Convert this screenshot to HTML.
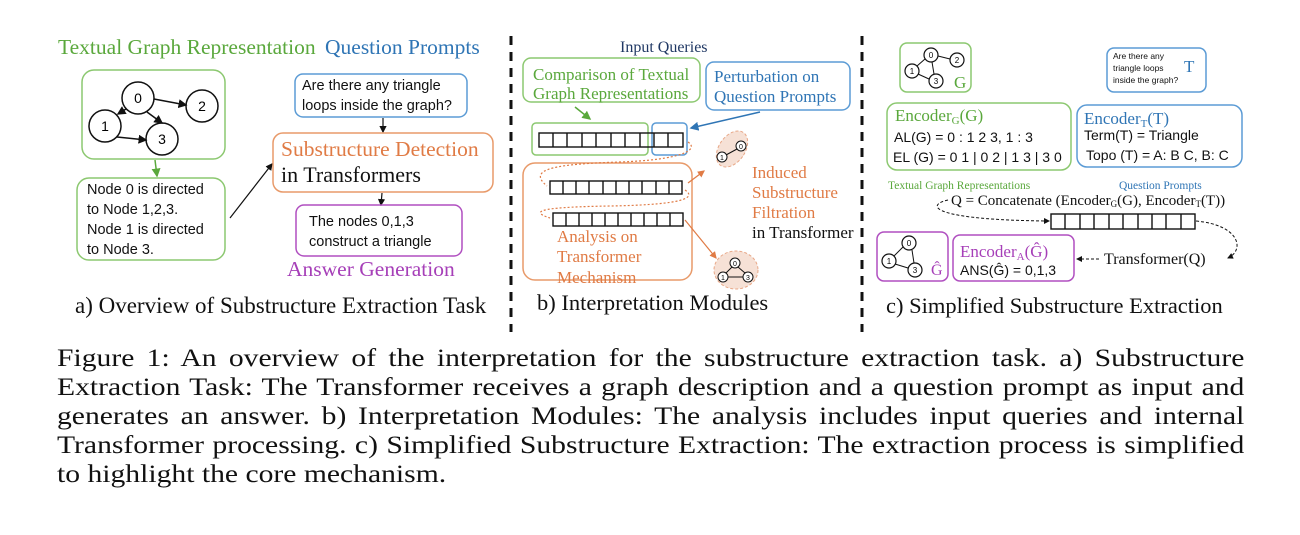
<!DOCTYPE html>
<html><head><meta charset="utf-8"><style>
body{margin:0;width:1300px;height:535px;background:#fff;overflow:hidden;position:relative;font-family:"Liberation Serif",serif}
.cap{position:absolute;left:57px;width:1002px;font-size:25px;text-align:justify;text-align-last:justify;white-space:nowrap;color:#111;transform:scaleX(1.185);transform-origin:0 0}
svg{position:absolute;left:0;top:0}
</style></head><body>
<svg width="1300" height="340" viewBox="0 0 1300 340">
<defs>
<marker id="ak" markerWidth="6" markerHeight="6" refX="5" refY="3" orient="auto"><path d="M0,0 L6,3 L0,6z" fill="#111"/></marker>
<marker id="ag" markerWidth="6" markerHeight="6" refX="5" refY="3" orient="auto"><path d="M0,0 L6,3 L0,6z" fill="#5aa83c"/></marker>
<marker id="ab" markerWidth="6" markerHeight="6" refX="5" refY="3" orient="auto"><path d="M0,0 L6,3 L0,6z" fill="#2f75b5"/></marker>
<marker id="ao" markerWidth="6" markerHeight="6" refX="5" refY="3" orient="auto"><path d="M0,0 L6,3 L0,6z" fill="#e07b45"/></marker>
</defs>
<g font-family="Liberation Serif,serif">
<!-- panel a -->
<text x="58" y="54" font-size="21.5" fill="#5aa83c">Textual Graph Representation</text>
<text x="325" y="54" font-size="21.5" fill="#2f75b5">Question Prompts</text>
<rect x="82" y="70" width="143" height="89" rx="12" fill="none" stroke="#8cc870" stroke-width="1.5"/>
<g stroke="#111" stroke-width="1.5" fill="none">
<circle cx="138" cy="98" r="16"/><circle cx="202" cy="106" r="16"/><circle cx="105" cy="126" r="16"/><circle cx="162" cy="139" r="16"/>
<line x1="154" y1="99" x2="186" y2="105" marker-end="url(#ak)"/>
<line x1="147" y1="112" x2="162" y2="123" marker-end="url(#ak)"/>
<line x1="126" y1="109" x2="118" y2="114" marker-end="url(#ak)"/>
<line x1="117" y1="137" x2="146" y2="140" marker-end="url(#ak)"/>
</g>
<g font-family="Liberation Sans,sans-serif" font-size="14" text-anchor="middle"><text x="138" y="103">0</text><text x="202" y="111">2</text><text x="105" y="131">1</text><text x="162" y="144">3</text></g>
<line x1="155" y1="160" x2="157" y2="176" stroke="#5aa83c" stroke-width="1.5" marker-end="url(#ag)"/>
<rect x="77" y="178" width="148" height="82" rx="12" fill="none" stroke="#8cc870" stroke-width="1.5"/>
<g font-family="Liberation Sans,sans-serif" font-size="14.5" fill="#111"><text x="87" y="194">Node 0 is directed</text><text x="87" y="214">to Node 1,2,3.</text><text x="87" y="234">Node 1 is directed</text><text x="87" y="254">to Node 3.</text></g>
<line x1="230" y1="218" x2="272" y2="164" stroke="#111" stroke-width="1.2" marker-end="url(#ak)"/>
<rect x="295" y="74" width="172" height="43" rx="8" fill="none" stroke="#5b9bd5" stroke-width="1.5"/>
<g font-family="Liberation Sans,sans-serif" font-size="14.5" fill="#111"><text x="302" y="90">Are there any triangle</text><text x="302" y="110">loops inside the graph?</text></g>
<line x1="383" y1="118" x2="383" y2="132" stroke="#111" stroke-width="1.2" marker-end="url(#ak)"/>
<rect x="273" y="133" width="220" height="59" rx="10" fill="none" stroke="#e89a6a" stroke-width="1.5"/>
<text x="281" y="156" font-size="21.5" fill="#e07b45">Substructure Detection</text>
<text x="281" y="182" font-size="22" fill="#111">in Transformers</text>
<line x1="382" y1="193" x2="381" y2="205" stroke="#111" stroke-width="1.2" marker-end="url(#ak)"/>
<rect x="296" y="205" width="166" height="51" rx="8" fill="none" stroke="#b04fc0" stroke-width="1.5"/>
<g font-family="Liberation Sans,sans-serif" font-size="14.5" fill="#111"><text x="309" y="226">The nodes 0,1,3</text><text x="309" y="246">construct a triangle</text></g>
<text x="287" y="276" font-size="21.5" fill="#a63fb8">Answer Generation</text>
<text x="75" y="313" font-size="23" fill="#111">a) Overview of Substructure Extraction Task</text>
<line x1="511" y1="36" x2="511" y2="332" stroke="#111" stroke-width="3" stroke-dasharray="9,7"/>
<line x1="862" y1="36" x2="862" y2="332" stroke="#111" stroke-width="3" stroke-dasharray="9,7"/>
<!-- panel b -->
<text x="620" y="52" font-size="16" fill="#203864">Input Queries</text>
<rect x="523" y="58" width="177" height="44" rx="8" fill="none" stroke="#8cc870" stroke-width="1.5"/>
<text x="533" y="80" font-size="17" fill="#5aa83c">Comparison of Textual</text>
<text x="533" y="99" font-size="17" fill="#5aa83c">Graph Representations</text>
<rect x="706" y="62" width="144" height="48" rx="8" fill="none" stroke="#5b9bd5" stroke-width="1.5"/>
<text x="714" y="82" font-size="17" fill="#2f75b5">Perturbation on</text>
<text x="714" y="102" font-size="17" fill="#2f75b5">Question Prompts</text>
<line x1="575" y1="107" x2="590" y2="119" stroke="#5aa83c" stroke-width="1.5" marker-end="url(#ag)"/>
<line x1="760" y1="112" x2="691" y2="128" stroke="#2f75b5" stroke-width="1.5" marker-end="url(#ab)"/>
<rect x="532" y="123" width="116" height="32" rx="4" fill="none" stroke="#8cc870" stroke-width="1.5"/>
<rect x="652" y="123" width="35" height="32" rx="4" fill="none" stroke="#5b9bd5" stroke-width="1.5"/>
<g fill="none" stroke="#111" stroke-width="1.4">
<rect x="539" y="133" width="144" height="14"/>
<path d="M553,133v14M567,133v14M582,133v14M596,133v14M611,133v14M625,133v14M640,133v14M654,133v14M668,133v14"/>
<rect x="550" y="181" width="132" height="13"/>
<path d="M563,181v13M576,181v13M589,181v13M603,181v13M616,181v13M629,181v13M642,181v13M656,181v13M669,181v13"/>
<rect x="553" y="213" width="130" height="13"/>
<path d="M566,213v13M579,213v13M592,213v13M605,213v13M618,213v13M631,213v13M644,213v13M657,213v13M670,213v13"/>
</g>
<rect x="523" y="163" width="169" height="117" rx="12" fill="none" stroke="#e89a6a" stroke-width="1.5"/>
<g fill="none" stroke="#e07b45" stroke-width="1.2" stroke-dasharray="2,2">
<path d="M688,142 C700,150 680,160 620,162 C560,164 525,168 547,186"/>
<path d="M685,190 C700,200 670,205 610,206 C550,207 525,210 550,218"/>
</g>
<line x1="688" y1="183" x2="704" y2="171" stroke="#e07b45" stroke-width="1.2" marker-end="url(#ao)"/>
<line x1="685" y1="220" x2="716" y2="258" stroke="#e07b45" stroke-width="1.2" marker-end="url(#ao)"/>
<ellipse cx="732" cy="149" rx="13" ry="20" transform="rotate(35 732 149)" fill="#f6e1d6" stroke="#e8a888" stroke-dasharray="3,2"/>
<ellipse cx="736" cy="270" rx="22" ry="19" fill="#f6e1d6" stroke="#e8a888" stroke-dasharray="3,2"/>
<g fill="#fff" stroke="#111" stroke-width="1"><circle cx="741" cy="146" r="5"/><circle cx="722" cy="157" r="5"/><circle cx="735" cy="263" r="5"/><circle cx="723" cy="277" r="5"/><circle cx="748" cy="277" r="5"/></g>
<g stroke="#111" stroke-width="1"><line x1="737" y1="149" x2="726" y2="155"/><line x1="732" y1="267" x2="726" y2="273"/><line x1="738" y1="267" x2="745" y2="273"/><line x1="743" y1="277" x2="728" y2="277"/></g>
<g font-family="Liberation Sans,sans-serif" font-size="7" text-anchor="middle"><text x="741" y="149">0</text><text x="722" y="160">1</text><text x="735" y="266">0</text><text x="723" y="280">1</text><text x="748" y="280">3</text></g>
<g fill="#e07b45" font-size="17"><text x="557" y="242">Analysis on</text><text x="557" y="262">Transformer</text><text x="557" y="283">Mechanism</text>
<text x="752" y="178">Induced</text><text x="752" y="198">Substructure</text><text x="752" y="218">Filtration</text></g>
<text x="752" y="238" font-size="17" fill="#111">in Transformer</text>
<text x="537" y="310" font-size="22.5" fill="#111">b) Interpretation Modules</text>
<!-- panel c -->
<rect x="900" y="43" width="71" height="49" rx="7" fill="none" stroke="#8cc870" stroke-width="1.5"/>
<g stroke="#111" stroke-width="1"><line x1="925" y1="59" x2="917" y2="66"/><line x1="938" y1="56" x2="950" y2="59"/><line x1="932" y1="62" x2="934" y2="74"/><line x1="918" y1="74" x2="929" y2="79"/></g>
<g fill="#fff" stroke="#111" stroke-width="1.2"><circle cx="931" cy="55" r="7"/><circle cx="957" cy="60" r="7"/><circle cx="912" cy="71" r="7"/><circle cx="936" cy="81" r="7"/></g>
<g font-family="Liberation Sans,sans-serif" font-size="8" text-anchor="middle"><text x="931" y="58">0</text><text x="957" y="63">2</text><text x="912" y="74">1</text><text x="936" y="84">3</text></g>
<text x="954" y="88" font-size="17" fill="#5aa83c">G</text>
<rect x="1107" y="48" width="99" height="44" rx="7" fill="none" stroke="#5b9bd5" stroke-width="1.5"/>
<g font-family="Liberation Sans,sans-serif" font-size="8.5" fill="#111"><text x="1113" y="59">Are there any</text><text x="1113" y="71">triangle loops</text><text x="1113" y="83">inside the graph?</text></g>
<text x="1184" y="72" font-size="17" fill="#2f75b5">T</text>
<rect x="887" y="103" width="184" height="67" rx="10" fill="none" stroke="#8cc870" stroke-width="1.5"/>
<text x="895" y="121" font-size="17" fill="#5aa83c">Encoder<tspan font-size="11" dy="3">G</tspan><tspan dy="-3">(G)</tspan></text>
<g font-family="Liberation Sans,sans-serif" font-size="14" fill="#111"><text x="894" y="142">AL(G) = 0 : 1 2 3, 1 : 3</text><text x="893" y="162">EL (G) = 0 1 | 0 2 | 1 3 | 3 0</text></g>
<rect x="1077" y="105" width="165" height="62" rx="10" fill="none" stroke="#5b9bd5" stroke-width="1.5"/>
<text x="1084" y="124" font-size="17" fill="#2f75b5">Encoder<tspan font-size="11" dy="3">T</tspan><tspan dy="-3">(T)</tspan></text>
<g font-family="Liberation Sans,sans-serif" font-size="14" fill="#111"><text x="1084" y="140">Term(T) = Triangle</text><text x="1086" y="160">Topo (T) = A: B C, B: C</text></g>
<text x="888" y="189" font-size="11.5" fill="#5aa83c">Textual Graph Representations</text>
<text x="1119" y="189" font-size="11.5" fill="#2f75b5">Question Prompts</text>
<text x="951" y="205" font-size="15" fill="#111">Q = Concatenate (Encoder<tspan font-size="9" dy="2">G</tspan><tspan dy="-2">(G), Encoder</tspan><tspan font-size="9" dy="2">T</tspan><tspan dy="-2">(T))</tspan></text>
<g fill="none" stroke="#111" stroke-width="1.4">
<rect x="1051" y="214" width="144" height="15"/>
<path d="M1065,214v15M1080,214v15M1094,214v15M1109,214v15M1123,214v15M1138,214v15M1152,214v15M1166,214v15M1181,214v15"/>
</g>
<g fill="none" stroke="#111" stroke-width="1" stroke-dasharray="3,2">
<path d="M948,200 C925,205 930,220 1049,221" marker-end="url(#ak)"/>
<path d="M1196,221 C1240,225 1245,250 1228,258" marker-end="url(#ak)"/>
<path d="M1099,259 L1077,259" marker-end="url(#ak)"/>
</g>
<text x="1104" y="264" font-size="16" fill="#111">Transformer(Q)</text>
<rect x="877" y="232" width="71" height="49" rx="7" fill="none" stroke="#b04fc0" stroke-width="1.5"/>
<g stroke="#111" stroke-width="1"><line x1="903" y1="247" x2="894" y2="256"/><line x1="912" y1="250" x2="914" y2="263"/><line x1="895" y1="264" x2="908" y2="268"/></g>
<g fill="#fff" stroke="#111" stroke-width="1.2"><circle cx="909" cy="243" r="7"/><circle cx="889" cy="261" r="7"/><circle cx="915" cy="270" r="7"/></g>
<g font-family="Liberation Sans,sans-serif" font-size="8" text-anchor="middle"><text x="909" y="246">0</text><text x="889" y="264">1</text><text x="915" y="273">3</text></g>
<text x="931" y="275" font-size="16" fill="#a63fb8">Ĝ</text>
<rect x="953" y="235" width="121" height="46" rx="7" fill="none" stroke="#b04fc0" stroke-width="1.5"/>
<text x="960" y="257" font-size="17" fill="#a63fb8">Encoder<tspan font-size="11" dy="3">A</tspan><tspan dy="-3">(Ĝ)</tspan></text>
<text x="960" y="275" font-family="Liberation Sans,sans-serif" font-size="14" fill="#111">ANS(Ĝ) = 0,1,3</text>
<text x="886" y="313" font-size="22.5" fill="#111">c) Simplified Substructure Extraction</text>
</g>
</svg>
<div class="cap" style="top:345px">Figure 1: An overview of the interpretation for the substructure extraction task. a) Substructure</div>
<div class="cap" style="top:374px">Extraction Task: The Transformer receives a graph description and a question prompt as input and</div>
<div class="cap" style="top:403px">generates an answer. b) Interpretation Modules: The analysis includes input queries and internal</div>
<div class="cap" style="top:432px">Transformer processing. c) Simplified Substructure Extraction: The extraction process is simplified</div>
<div class="cap" style="top:461px;text-align-last:left">to highlight the core mechanism.</div>
</body></html>
